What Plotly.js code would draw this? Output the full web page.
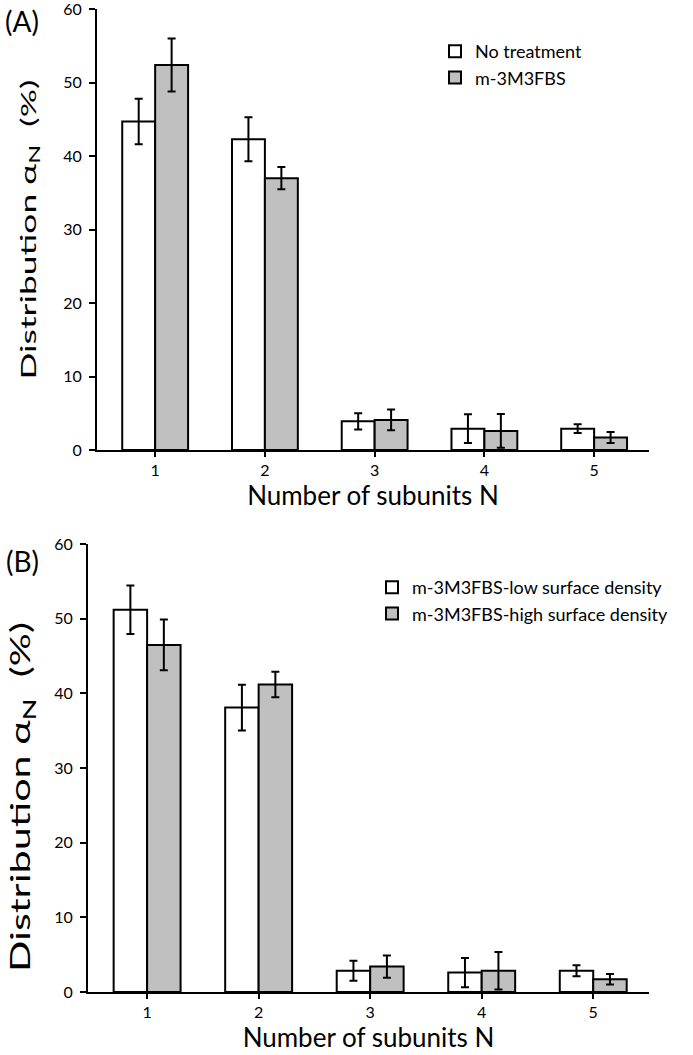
<!DOCTYPE html>
<html>
<head>
<meta charset="utf-8">
<script src="https://cdn.plot.ly/plotly-3.0.1.min.js"></script>
<style>
html,body{margin:0;padding:0;background:#fff;}
</style>
</head>
<body>
<div id="chart" style="width:693px;height:1055px;"></div>
<script>
// ---- data ----
const categories = [1, 2, 3, 4, 5];
const tickLabels = ['1', '2', '3', '4', '5'];

// Panel A
const seriesA1Name = 'No treatment';
const noTreatment = [44.7, 42.3, 3.9, 2.9, 2.9];
const noTreatmentErr = [3.1, 3.0, 1.1, 1.95, 0.6];
const seriesA2Name = 'm-3M3FBS';
const m3m3fbs = [52.4, 37.0, 4.1, 2.6, 1.7];
const m3m3fbsErr = [3.6, 1.5, 1.4, 2.3, 0.75];

// Panel B
const seriesB1Name = 'm-3M3FBS-low surface density';
const lowDensity = [51.2, 38.1, 2.85, 2.6, 2.85];
const lowDensityErr = [3.25, 3.05, 1.35, 1.95, 0.75];
const seriesB2Name = 'm-3M3FBS-high surface density';
const highDensity = [46.5, 41.2, 3.4, 2.85, 1.7];
const highDensityErr = [3.4, 1.7, 1.5, 2.5, 0.7];

const xTitle = 'Number of subunits N';
const yTitle = 'Distribution α<sub>N</sub>  (%)';

// ---- styling ----
const FONT = 'Lato, "Open Sans", sans-serif';
const WHITE = '#ffffff';
const GRAY = '#c0c0c0';

function barTrace(name, y, err, color, xa, ya, lg) {
  return {
    type: 'bar', name: name, x: categories, y: y,
    xaxis: xa, yaxis: ya, legend: lg,
    marker: {color: color, line: {color: '#000', width: 2}},
    error_y: {type: 'data', array: err, visible: true, color: '#000', thickness: 2, width: 4},
    hoverinfo: 'skip'
  };
}

const data = [
  barTrace(seriesA1Name, noTreatment, noTreatmentErr, WHITE, 'x', 'y', 'legend'),
  barTrace(seriesA2Name, m3m3fbs, m3m3fbsErr, GRAY, 'x', 'y', 'legend'),
  barTrace(seriesB1Name, lowDensity, lowDensityErr, WHITE, 'x2', 'y2', 'legend2'),
  barTrace(seriesB2Name, highDensity, highDensityErr, GRAY, 'x2', 'y2', 'legend2')
];

const W = 693, H = 1055;
function px(x) { return x / W; }
function py(y) { return 1 - y / H; }

function xAxis(domain, anchor) {
  return {
    domain: domain, anchor: anchor, range: [0.47, 5.5],
    tickmode: 'array', tickvals: categories, ticktext: tickLabels,
    showline: true, linecolor: '#000', linewidth: 2,
    ticks: 'outside', ticklen: 5, tickwidth: 2, tickcolor: '#000',
    tickfont: {family: FONT, size: 16, color: '#000'},
    showgrid: false, zeroline: false, fixedrange: true,
    title: {text: xTitle, font: {family: FONT, size: 26, color: '#000'}, standoff: 3}
  };
}
function yAxis(domain, anchor, tsize, standoff) {
  return {
    domain: domain, anchor: anchor, range: [0, 60.02],
    tickmode: 'linear', tick0: 0, dtick: 10,
    showline: true, linecolor: '#000', linewidth: 2,
    ticks: 'outside', ticklen: 6, tickwidth: 2, tickcolor: '#000',
    ticklabelstandoff: 4, ticklabeloverflow: 'allow',
    tickfont: {family: FONT, size: 16, color: '#000'},
    showgrid: false, zeroline: false, fixedrange: true,
    title: {text: yTitle, font: {family: FONT, size: tsize, color: '#000'}, standoff: standoff}
  };
}

const layout = {
  width: W, height: H,
  margin: {l: 0, r: 0, t: 0, b: 0},
  paper_bgcolor: '#fff', plot_bgcolor: '#fff',
  font: {family: FONT, color: '#000'},
  barmode: 'group', bargap: 0.4, bargroupgap: 0,
  xaxis: xAxis([px(97), px(649)], 'y'),
  yaxis: yAxis([py(450), py(9)], 'x', 22, 21),
  xaxis2: xAxis([px(88), px(649)], 'y2'),
  yaxis2: yAxis([py(992), py(544)], 'x2', 26, 16),
  legend: {
    x: px(435), y: py(33), xanchor: 'left', yanchor: 'top',
    font: {family: FONT, size: 18, color: '#000'},
    bgcolor: 'rgba(0,0,0,0)', borderwidth: 0, tracegroupgap: 0, itemwidth: 30
  },
  legend2: {
    x: px(372), y: py(569), xanchor: 'left', yanchor: 'top',
    font: {family: FONT, size: 18, color: '#000'},
    bgcolor: 'rgba(0,0,0,0)', borderwidth: 0, tracegroupgap: 0, itemwidth: 30
  },
  showlegend: true,
  annotations: [
    {text: '(A)', xref: 'paper', yref: 'paper', x: px(22), y: py(21), xanchor: 'center', yanchor: 'middle',
     showarrow: false, font: {family: FONT, size: 28, color: '#000'}},
    {text: '(B)', xref: 'paper', yref: 'paper', x: px(22), y: py(561), xanchor: 'center', yanchor: 'middle',
     showarrow: false, font: {family: FONT, size: 28, color: '#000'}}
  ]
};

// The reference figure is stretched vertically; stretch the rotated y titles to the same length.
function stretchTitle(sel, len, shiftDown) {
  const t = document.querySelector(sel);
  if (!t) return;
  t.setAttribute('textLength', len);
  t.setAttribute('lengthAdjust', 'spacingAndGlyphs');
  if (shiftDown) {
    const x = parseFloat(t.getAttribute('x'));
    t.setAttribute('x', x - shiftDown);
  }
}

Plotly.newPlot('chart', data, layout, {displayModeBar: false, staticPlot: true}).then(function () {
  stretchTitle('.ytitle', 300, 0);
  stretchTitle('.y2title', 350, 29);
});
</script>
</body>
</html>
